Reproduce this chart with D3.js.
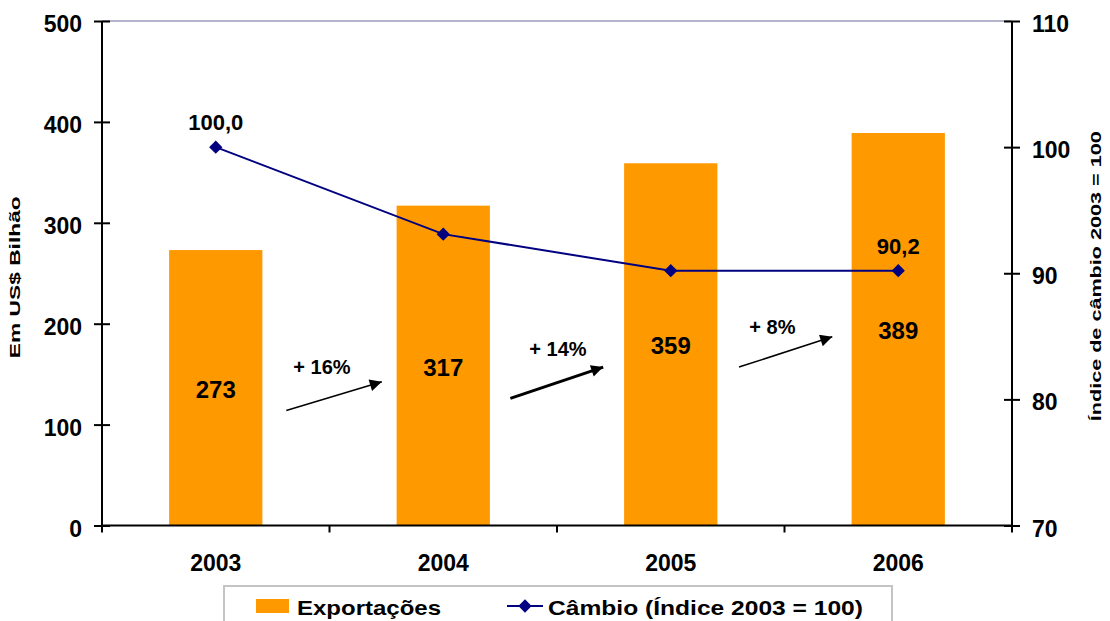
<!DOCTYPE html>
<html>
<head>
<meta charset="utf-8">
<script src="https://cdn.jsdelivr.net/npm/d3@7"></script>
<style>
	body { margin: 0; background: #fff; }
	text { font-family: Arial, "Liberation Sans", sans-serif; font-weight: bold; fill: #000; }
</style>
</head>
<body>
<div id="graph"></div>
<script>
const years = ["2003", "2004", "2005", "2006"];
const exportacoes = [273, 317, 359, 389];
const cambio = [100.0, 93.1, 90.2, 90.2];
const cambioLabels = ["100,0", "", "", "90,2"];
const leftTicks = [0, 100, 200, 300, 400, 500];
const rightTicks = [70, 80, 90, 100, 110];

// growth arrows between years (y in US$ bn, x as share of band step around the gap)
const growthLabels = ["+ 16%", "+ 14%", "+ 8%"];
const growthLabelY = [150, 168, 190];
const growthLabelDx = [-0.033, 0.004, -0.053];
const arrowFromY = [114, 126, 157];
const arrowToY = [142.5, 157, 187];
const arrowFromDx = [-0.19, -0.205, -0.2];
const arrowToDx = [0.23, 0.203, 0.21];
const arrowWidth = [1.5, 3, 1.5];

const width = 1110;
const height = 621;
const marginTop = 21;
const marginRight = 98;
const marginBottom = 95.5;
const marginLeft = 102;

const orange = "#FF9900";
const navy = "#000080";

const svg = d3
	.select("#graph")
	.append("svg")
	.attr("width", width)
	.attr("height", height)
	.attr("viewBox", [0, 0, width, height]);

svg.append("defs")
	.append("marker")
	.attr("id", "head")
	.attr("viewBox", "0 0 10 10")
	.attr("refX", 10)
	.attr("refY", 5)
	.attr("markerUnits", "userSpaceOnUse")
	.attr("markerWidth", 16)
	.attr("markerHeight", 12)
	.attr("orient", "auto")
	.append("path")
	.attr("d", "M0,0 L10,5 L0,10 Z")
	.attr("fill", "#000");

const x = d3.scaleBand(years, [marginLeft, width - marginRight]).paddingInner(0.59).paddingOuter(0.295);
const step = x.step();
const center = (i) => x(years[i]) + x.bandwidth() / 2;
const y = d3.scaleLinear([0, 500], [height - marginBottom, marginTop]);
const y2 = d3.scaleLinear([70, 110], [height - marginBottom, marginTop]);

// top border of the plot area
svg.append("line")
	.attr("x1", marginLeft)
	.attr("x2", width - marginRight)
	.attr("y1", y(500))
	.attr("y2", y(500))
	.attr("stroke", "#b4b4cc")
	.attr("stroke-width", 2);

// bars
svg.append("g")
	.attr("fill", orange)
	.selectAll("rect")
	.data(exportacoes)
	.join("rect")
	.attr("x", (d, i) => x(years[i]))
	.attr("y", (d) => y(d))
	.attr("width", x.bandwidth())
	.attr("height", (d) => y(0) - y(d));

svg.append("g")
	.attr("font-size", 24)
	.attr("text-anchor", "middle")
	.selectAll("text")
	.data(exportacoes)
	.join("text")
	.attr("x", (d, i) => center(i))
	.attr("y", (d) => y(d / 2))
	.attr("dy", "0.42em")
	.text((d) => d);

// left axis
svg.append("g")
	.attr("transform", `translate(${marginLeft},0)`)
	.call(d3.axisLeft(y).tickValues(leftTicks).tickSize(8).tickPadding(12))
	.call((g) => g.select(".domain").attr("stroke", "#000").attr("stroke-width", 2).attr("d", `M0,${y(0)}V${y(500)}`))
	.call((g) => g.selectAll(".tick line").attr("stroke-width", 2).attr("x2", 8).attr("x1", -8))
	.call((g) => g.selectAll(".tick text").attr("font-size", 23).attr("font-family", null).attr("dy", "0.46em").attr("fill", "#000"));

// right axis
svg.append("g")
	.attr("transform", `translate(${width - marginRight},0)`)
	.call(d3.axisRight(y2).tickValues(rightTicks).tickSize(8).tickPadding(12))
	.call((g) => g.select(".domain").attr("stroke", "#000").attr("stroke-width", 2).attr("d", `M0,${y2(70)}V${y2(110)}`))
	.call((g) => g.selectAll(".tick line").attr("stroke-width", 2).attr("x2", 8).attr("x1", -8))
	.call((g) => g.selectAll(".tick text").attr("font-size", 23).attr("font-family", null).attr("dy", "0.46em").attr("fill", "#000"));

// bottom axis: ticks at category boundaries
const bottom = svg.append("g");
bottom.append("line")
	.attr("x1", marginLeft)
	.attr("x2", width - marginRight)
	.attr("y1", y(0))
	.attr("y2", y(0))
	.attr("stroke", "#000")
	.attr("stroke-width", 2);
bottom.selectAll(".bt")
	.data(d3.range(years.length + 1))
	.join("line")
	.attr("class", "bt")
	.attr("x1", (i) => marginLeft + i * step)
	.attr("x2", (i) => marginLeft + i * step)
	.attr("y1", y(0))
	.attr("y2", y(0) + 7)
	.attr("stroke", "#000")
	.attr("stroke-width", 2);
bottom.selectAll("text")
	.data(years)
	.join("text")
	.attr("x", (d, i) => center(i))
	.attr("y", y(0) + 45)
	.attr("text-anchor", "middle")
	.attr("font-size", 23)
	.text((d) => d);

// axis titles
svg.append("text")
	.attr("transform", `translate(20,${(y(0) + y(500)) / 2 + 4}) rotate(-90)`)
	.attr("text-anchor", "middle")
	.attr("font-size", 14.5)
	.attr("textLength", 162)
	.attr("lengthAdjust", "spacingAndGlyphs")
	.text("Em US$ Bilhão");

svg.append("text")
	.attr("transform", `translate(1101,${(y(0) + y(500)) / 2 + 3}) rotate(-90)`)
	.attr("text-anchor", "middle")
	.attr("font-size", 14.5)
	.attr("textLength", 290)
	.attr("lengthAdjust", "spacingAndGlyphs")
	.text("Índice de câmbio 2003 = 100");

// câmbio line
const line = d3.line()
	.x((d, i) => center(i))
	.y((d) => y2(d));

svg.append("path")
	.datum(cambio)
	.attr("fill", "none")
	.attr("stroke", navy)
	.attr("stroke-width", 2)
	.attr("d", line);

const diamond = d3.symbol(d3.symbolSquare, 88);
svg.append("g")
	.attr("fill", navy)
	.selectAll("path")
	.data(cambio)
	.join("path")
	.attr("transform", (d, i) => `translate(${center(i)},${y2(d)}) rotate(45)`)
	.attr("d", diamond);

svg.append("g")
	.attr("font-size", 22)
	.attr("text-anchor", "middle")
	.selectAll("text")
	.data(cambio)
	.join("text")
	.attr("x", (d, i) => center(i))
	.attr("y", (d) => y2(d) - 17)
	.text((d, i) => cambioLabels[i]);

// growth arrows
const gap = (i) => (center(i) + center(i + 1)) / 2;
svg.append("g")
	.selectAll("line")
	.data(growthLabels)
	.join("line")
	.attr("x1", (d, i) => gap(i) + arrowFromDx[i] * step)
	.attr("y1", (d, i) => y(arrowFromY[i]))
	.attr("x2", (d, i) => gap(i) + arrowToDx[i] * step)
	.attr("y2", (d, i) => y(arrowToY[i]))
	.attr("stroke", "#000")
	.attr("stroke-width", (d, i) => arrowWidth[i])
	.attr("marker-end", "url(#head)");

svg.append("g")
	.attr("font-size", 20)
	.attr("text-anchor", "middle")
	.selectAll("text")
	.data(growthLabels)
	.join("text")
	.attr("x", (d, i) => gap(i) + growthLabelDx[i] * step)
	.attr("y", (d, i) => y(growthLabelY[i]))
	.text((d) => d);

// legend
const legend = svg.append("g");
legend.append("rect")
	.attr("x", 224)
	.attr("y", 586)
	.attr("width", 668)
	.attr("height", 60)
	.attr("fill", "#fff")
	.attr("stroke", "#c4c4c4")
	.attr("stroke-width", 2);
legend.append("rect")
	.attr("x", 256)
	.attr("y", 599)
	.attr("width", 33)
	.attr("height", 14)
	.attr("fill", orange);
legend.append("text")
	.attr("x", 297)
	.attr("y", 615)
	.attr("font-size", 21)
	.attr("textLength", 144)
	.attr("lengthAdjust", "spacingAndGlyphs")
	.text("Exportações");
legend.append("line")
	.attr("x1", 507)
	.attr("x2", 543)
	.attr("y1", 606)
	.attr("y2", 606)
	.attr("stroke", navy)
	.attr("stroke-width", 2);
legend.append("path")
	.attr("transform", "translate(525,606) rotate(45)")
	.attr("fill", navy)
	.attr("d", diamond);
legend.append("text")
	.attr("x", 548)
	.attr("y", 615)
	.attr("font-size", 21)
	.attr("textLength", 315)
	.attr("lengthAdjust", "spacingAndGlyphs")
	.text("Câmbio (Índice 2003 = 100)");
</script>
</body>
</html>
